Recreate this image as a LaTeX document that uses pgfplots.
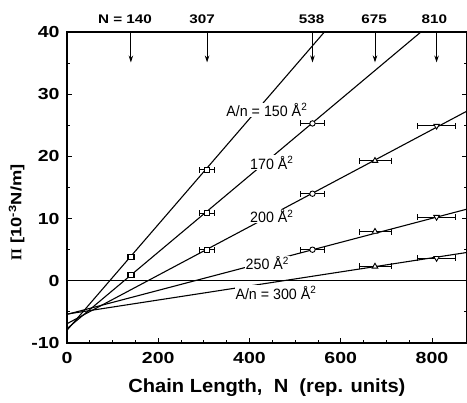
\documentclass[border=0pt]{standalone}
\usepackage{fontspec}
\setmainfont{Liberation Sans}
\newfontfamily\tickfont[FakeStretch=1.22]{Liberation Sans Bold}
\newfontfamily\xlabfont[FakeStretch=1.06]{Liberation Sans Bold}
\newfontfamily\labfont[FakeStretch=0.95]{Liberation Sans}
\newfontfamily\seriffont{Liberation Serif Bold}
\usepackage{pgfplots}
\pgfplotsset{compat=1.18}
\usepackage{pgfplotstable}
\usetikzlibrary{arrows.meta}

\pgfplotstableread{
x y ex
140 3.90 8
140 0.96 8
}\dataA
\pgfplotstableread{
x y ex
307 17.85 16
307 10.90 16
307 4.98 16
}\dataB
\pgfplotstableread{
x y ex
538 25.30 27
538 14.00 27
538 5.00 27
}\dataC
\pgfplotstableread{
x y ex
675 19.30 35
675 7.90 35
675 2.30 35
}\dataD
\pgfplotstableread{
x y ex
810 24.90 41
810 10.25 41
810 3.65 41
}\dataE

\begin{document}
\begin{tikzpicture}
\useasboundingbox (-67pt,-60pt) rectangle (400pt,343pt);
\begin{axis}[
  at={(0,0)}, anchor=south west,
  scale only axis, width=399.7pt, height=311pt,
  xmin=0, xmax=876, ymin=-10, ymax=40, clip=false,
  xtick={0,200,...,800}, ytick={-10,0,...,40},
  minor x tick num=3, minor y tick num=1,
  tick align=inside, xtick pos=left, ytick pos=both, yticklabel pos=left,
  major tick length=5pt, minor tick length=3pt,
  every tick/.style={black, line width=0.9pt},
  axis line style={line width=1.2pt},
  tick label style={font=\tickfont\fontsize{16}{16}\selectfont},
  /pgf/number format/assume math mode=true,
  xticklabel style={yshift=-6pt}, yticklabel style={xshift=-4pt},
  xlabel={Chain Length,\ \ N\ \ (rep. units)},
  xlabel style={font=\xlabfont\fontsize{19}{19}\selectfont, yshift=-8pt},
  ylabel={{\seriffont Π} [10\textsuperscript{-3}N/m]},
  ylabel style={at={(ticklabel cs:0.42)}, font=\tickfont\fontsize{15}{15}\selectfont},
  error bars/error bar style={line width=0.9pt, black},
  error bars/error mark options={rotate=90, line width=0.9pt, mark size=3pt, black},
]
% fitted lines
\addplot[line width=1.1pt, black] coordinates {(0,0) (876,0)};
\addplot[line width=1.1pt, black] coordinates {(0,-7.95) (564.1,40)};
\addplot[line width=1.1pt, black] coordinates {(0,-7.70) (775.6,40)};
\addplot[line width=1.1pt, black] coordinates {(0,-6.90) (876,27.26)};
\addplot[line width=1.1pt, black] coordinates {(0,-5.40) (876,11.51)};
\addplot[line width=1.1pt, black] coordinates {(0,-5.35) (876,4.55)};

% line labels
\begin{scope}[every node/.style={fill=white, inner sep=0.6pt, font=\labfont\fontsize{15}{15}\selectfont}]
\node at (axis cs:438,27.5) {A/n = 150 Å\textsuperscript{2}};
\node at (axis cs:449,19.0) {170 Å\textsuperscript{2}};
\node at (axis cs:449,10.4) {200 Å\textsuperscript{2}};
\node at (axis cs:439,2.9) {250 Å\textsuperscript{2}};
\node at (axis cs:458,-1.9) {A/n = 300 Å\textsuperscript{2}};
\end{scope}

% data points
\addplot[black, only marks, mark=square*, mark size=2.5pt, mark options={fill=white, line width=0.9pt},
  error bars/.cd, x dir=both, x explicit] table[x=x, y=y, x error=ex] {\dataA};
\addplot[black, only marks, mark=square*, mark size=2.5pt, mark options={fill=white, line width=0.9pt},
  error bars/.cd, x dir=both, x explicit] table[x=x, y=y, x error=ex] {\dataB};
\addplot[black, only marks, mark=*, mark size=2.7pt, mark options={fill=white, line width=0.9pt},
  error bars/.cd, x dir=both, x explicit] table[x=x, y=y, x error=ex] {\dataC};
\addplot[black, only marks, mark=triangle*, mark size=3.2pt, mark options={fill=white, line width=0.9pt},
  error bars/.cd, x dir=both, x explicit] table[x=x, y=y, x error=ex] {\dataD};
\addplot[black, only marks, mark=triangle*, mark size=3.2pt, mark options={fill=white, line width=0.9pt, rotate=180},
  error bars/.cd, x dir=both, x explicit] table[x=x, y=y, x error=ex] {\dataE};

% arrows and labels on top
\begin{scope}[every node/.style={anchor=base, yshift=8pt, font=\tickfont\fontsize{12.5}{12.5}\selectfont}]
\node at (axis cs:127,40) {N = 140};
\node at (axis cs:296,40) {307};
\node at (axis cs:536,40) {538};
\node at (axis cs:673,40) {675};
\node at (axis cs:805,40) {810};
\end{scope}
\foreach \n in {140,307,538,675,810}{
  \edef\temp{\noexpand\draw[line width=0.9pt, -{Stealth[length=7pt,width=4.5pt]}] (axis cs:\n,40) -- (axis cs:\n,35.1);}
  \temp
}
\end{axis}
\end{tikzpicture}
\end{document}
